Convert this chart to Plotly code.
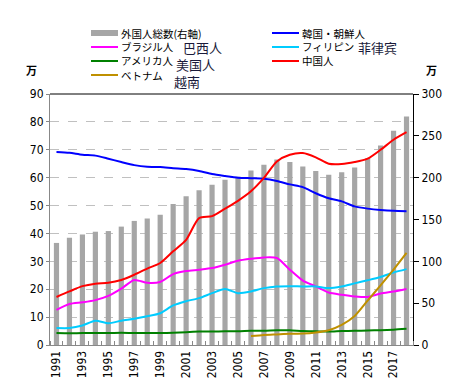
import plotly.graph_objects as go

years = list(range(1991, 2019))
tick_years = years[::2]

total = [122.0, 128.2, 132.1, 135.4, 136.2, 141.5, 148.3, 151.2, 155.6, 168.6,
         177.8, 185.1, 191.5, 197.4, 201.2, 208.5, 215.3, 221.7, 218.6, 213.4,
         207.9, 203.4, 206.6, 212.2, 223.2, 238.3, 256.2, 273.1]
korea = [69.2, 68.9, 68.2, 67.9, 66.8, 65.6, 64.5, 63.9, 63.8, 63.4,
         63.1, 62.4, 61.3, 60.6, 60.0, 59.8, 59.6, 58.8, 57.6, 56.6,
         54.4, 52.6, 51.5, 49.7, 48.9, 48.4, 48.1, 48.0]
china = [17.2, 19.2, 21.1, 22.0, 22.3, 23.3, 25.2, 27.4, 29.4, 33.6,
         37.7, 45.5, 46.2, 48.9, 51.7, 55.1, 59.9, 65.8, 68.2, 68.8,
         67.3, 65.0, 64.9, 65.6, 66.8, 70.0, 73.6, 76.3]
brazil = [12.6, 14.7, 15.3, 16.1, 17.6, 20.2, 23.3, 22.3, 22.6, 25.4,
          26.5, 27.0, 27.6, 28.8, 30.2, 30.9, 31.4, 31.2, 27.0, 23.1,
          21.0, 18.8, 18.0, 17.4, 17.2, 18.5, 19.2, 20.1]
philippines = [6.1, 6.1, 7.0, 8.7, 7.8, 8.7, 9.4, 10.3, 11.4, 14.2,
               15.7, 16.8, 18.6, 20.1, 18.6, 19.2, 20.4, 21.0, 21.1, 21.0,
               21.0, 20.4, 21.0, 22.1, 23.2, 24.4, 26.0, 27.2]
usa = [4.3, 4.2, 4.3, 4.3, 4.3, 4.4, 4.3, 4.3, 4.3, 4.4,
       4.6, 4.8, 4.8, 4.9, 4.9, 5.1, 5.1, 5.3, 5.3, 5.0,
       4.9, 4.8, 5.0, 5.1, 5.2, 5.3, 5.5, 5.8]
vietnam = [None] * 15 + [3.2, 3.6, 3.8, 4.0, 4.1, 4.5, 5.3, 7.2, 10.4, 15.9,
                         21.4, 27.0, 33.0]

series_names = ["外国人総数(右軸)", "韓国・朝鮮人", "ブラジル人", "フィリピン",
                "アメリカ人", "中国人", "ベトナム"]
zh_notes = ["巴西人", "菲律宾", "美国人", "越南"]

JP = "Noto Sans CJK JP"
NUM = "Liberation Sans Narrow, DejaVu Sans Condensed, Arial Narrow, sans-serif"

W, H = 454, 391
L, R, T, B = 42, 49, 86, 54
PW, PH = W - L - R, H - T - B


def px_to_paper(px, py):
    return (px - L) / PW, (T + PH - py) / PH


fig = go.Figure()

fig.add_trace(go.Bar(x=years, y=total, name=series_names[0], marker_color="#A6A6A6",
                     marker_line_width=0, yaxis="y"))

line_series = [
    (series_names[1], korea, "#0000FF"),
    (series_names[2], brazil, "#FF00FF"),
    (series_names[3], philippines, "#00CCFF"),
    (series_names[4], usa, "#008000"),
    (series_names[5], china, "#FF0000"),
    (series_names[6], vietnam, "#BF9000"),
]
for name, vals, col in line_series:
    fig.add_trace(go.Scatter(x=years, y=vals, name=name, mode="lines", yaxis="y2",
                             line=dict(color=col, width=2, shape="spline", smoothing=0.7)))

fig.update_layout(
    width=W, height=H,
    margin=dict(l=L, r=R, t=T, b=B, autoexpand=False),
    plot_bgcolor="white", paper_bgcolor="white",
    bargap=0.6,
    showlegend=False,
    xaxis=dict(range=[1990.5, 2018.5], tickmode="array", tickvals=tick_years,
               ticktext=[str(y) for y in tick_years], tickangle=-90,
               showline=True, linecolor="#888", linewidth=1, ticks="",
               showgrid=False, zeroline=False,
               tickfont=dict(family=NUM, size=12, color="#000"),
               minor=dict(tick0=1990.5, dtick=1, ticks="inside", ticklen=4,
                          tickcolor="#888", showgrid=False)),
    yaxis=dict(range=[0, 300], dtick=50, side="right", showline=True,
               linecolor="#000", linewidth=1, ticks="outside", ticklen=5,
               tickcolor="#000", showgrid=False, zeroline=False,
               tickfont=dict(family=NUM, size=12, color="#000")),
    yaxis2=dict(range=[0, 90], dtick=10, side="left", overlaying="y",
                showline=True, linecolor="#888", linewidth=1, ticks="outside",
                ticklen=3, tickcolor="#888", showgrid=True, gridcolor="#C0C0C0",
                griddash="dash", gridwidth=1, zeroline=False,
                tickfont=dict(family=NUM, size=12, color="#000")),
)

# ---- legend (two columns, drawn as key swatches + labels) ----
shapes = [dict(type="line", xref="paper", yref="paper", x0=0, x1=1, y0=1, y1=1,
               line=dict(color="#000", width=1))]
anns = []
legend_items = [
    (series_names[0], "#A6A6A6", 6, 83, 25),
    (series_names[2], "#FF00FF", 2, 83, 39),
    (series_names[4], "#008000", 2, 83, 53),
    (series_names[6], "#BF9000", 2, 83, 67),
    (series_names[1], "#0000FF", 2, 264, 25),
    (series_names[3], "#00CCFF", 2, 264, 39),
    (series_names[5], "#FF0000", 2, 264, 53),
]
for name, col, lw, px, py in legend_items:
    x0, y0 = px_to_paper(px, py)
    x1, _ = px_to_paper(px + 27, py)
    shapes.append(dict(type="line", xref="paper", yref="paper", x0=x0, x1=x1,
                       y0=y0, y1=y0, line=dict(color=col, width=lw)))
    tx, ty = px_to_paper(px + 29, py)
    anns.append(dict(text=name, x=tx, y=ty, xref="paper", yref="paper",
                     xanchor="left", yanchor="middle", showarrow=False, borderpad=0,
                     font=dict(family=JP, size=10.5, color="#000")))

ann_font = dict(family="Noto Sans CJK SC", size=13, color="#1a1a3a")
for txt, px, py in zip(zh_notes, [174, 349, 167, 165], [40, 40, 56, 73]):
    ax, ay = px_to_paper(px, py)
    anns.append(dict(text=txt, x=ax, y=ay, xref="paper", yref="paper",
                     xanchor="left", yanchor="middle", showarrow=False, font=ann_font,
                     borderpad=0))
for px in (23, 423):
    ax, ay = px_to_paper(px, 62)
    anns.append(dict(text="<b>万</b>", x=ax, y=ay,
                     xref="paper", yref="paper", xanchor="center", yanchor="middle",
                     showarrow=False, font=dict(family=JP, size=11, color="#000")))
fig.update_layout(annotations=anns, shapes=shapes)

fig.write_html("out.html")
